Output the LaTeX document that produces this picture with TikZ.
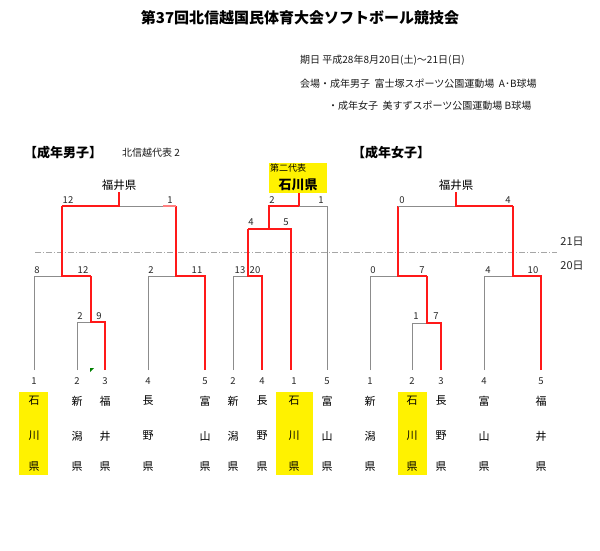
\documentclass[tikz,border=0pt]{standalone}
\usepackage{fontspec}
\newfontfamily\cjk{Noto Sans CJK JP}
\begin{document}
\begin{tikzpicture}[x=1pt,y=-1pt,
  g/.style={draw=gray!90,line width=0.8pt},
  r/.style={draw=red!90!white,line width=1.5pt},
  sc/.style={font=\cjk\fontsize{9.5}{9.5}\selectfont,text=gray!30!black,inner sep=0pt},
  nm/.style={font=\cjk\fontsize{11}{11}\selectfont,inner sep=0pt},
  hd/.style={font=\cjk\fontsize{10}{10}\selectfont,inner sep=0pt,anchor=west,text=gray!20!black}]
\useasboundingbox (0,0) rectangle (600,551);
\node[font=\cjk\bfseries\fontsize{15}{15}\selectfont] (title) at (300,18) {第37回北信越国民体育大会ソフトボール競技会};
\node[hd] (d1) at (300,60) {期日\ 平成28年8月20日(土)～21日(日)};
\node[hd] (d2) at (300,84) {会場・成年男子\ \ 富士塚スポーツ公園運動場\ \ A･B球場};
\node[hd] (d3) at (328,106) {・成年女子\ \ 美すずスポーツ公園運動場\ B球場};
\node[anchor=west,inner sep=0pt,font=\cjk\bfseries\fontsize{13}{13}\selectfont] (h1) at (24,153) {【成年男子】};
\node[hd] (h1b) at (122,153) {北信越代表\ 2};
\node[anchor=west,inner sep=0pt,font=\cjk\bfseries\fontsize{13}{13}\selectfont] (h2) at (352,153) {【成年女子】};
% yellow
\fill[yellow] (19,392) rectangle (48,475);
\fill[yellow] (276,392) rectangle (313,475);
\fill[yellow] (398,392) rectangle (427,475);
\fill[yellow] (269,163) rectangle (327,193);
\node[anchor=north west,inner sep=1pt,font=\cjk\fontsize{9}{9}\selectfont] (y1) at (269,163) {第二代表};
\node[font=\cjk\bfseries\fontsize{13}{13}\selectfont,inner sep=0pt] (y2) at (298,185) {石川県};
% dash-dot
\draw[gray!70,line width=0.8pt,dash pattern=on 6pt off 2pt on 1pt off 2pt] (35,252) -- (557,252);
\node[sc,font=\cjk\fontsize{11}{11}\selectfont] (d21) at (572,242) {21日};
\node[sc,font=\cjk\fontsize{11}{11}\selectfont] (d20) at (572,266) {20日};
% ===== left bracket
\draw[g] (77,370)--(77,322)--(91,322);
\draw[r] (105,370)--(105,322)--(91,322)--(91,276);
\draw[g] (34,370)--(34,276)--(62,276);
\draw[r] (91,276)--(62,276)--(62,206);
\draw[g] (148,370)--(148,276)--(176,276);
\draw[r] (205,370)--(205,276)--(176,276)--(176,206);
\draw[g] (119,206)--(163,206);
\draw[draw=red!50,line width=1.5pt] (163,206)--(176,206);
\draw[r] (62,206)--(119,206)--(119,192);
\node[nm,font=\cjk\fontsize{11.5}{11.5}\selectfont] (f1) at (119,185) {福井県};
\node[sc] at (68,200) {12}; \node[sc] at (170,200) {1};
\node[sc] at (37,270) {8}; \node[sc] at (83,270) {12};
\node[sc] at (80,316) {2}; \node[sc] at (99,316) {9};
\node[sc] at (151,270) {2}; \node[sc] at (197,270) {11};
% ===== middle bracket
\draw[g] (233,370)--(233,276)--(248,276);
\draw[r] (262,370)--(262,276)--(248,276)--(248,229);
\draw[r] (291,370)--(291,229)--(248,229);
\draw[r] (269,229)--(269,206)--(299,206)--(299,193);
\draw[g] (299,206)--(327,206)--(327,370);
\node[sc] at (240,270) {13}; \node[sc] at (255,270) {20};
\node[sc] at (251,222) {4}; \node[sc] at (286,222) {5};
\node[sc] at (272,200) {2}; \node[sc] at (321,200) {1};
% ===== right bracket
\draw[g] (412,370)--(412,323)--(427,323);
\draw[r] (441,370)--(441,323)--(427,323)--(427,276);
\draw[g] (370,370)--(370,276)--(398,276);
\draw[r] (427,276)--(398,276)--(398,206);
\draw[g] (484,370)--(484,276)--(513,276);
\draw[r] (541,370)--(541,276)--(513,276)--(513,206);
\draw[g] (398,206)--(456,206);
\draw[r] (513,206)--(456,206)--(456,192);
\node[nm,font=\cjk\fontsize{11.5}{11.5}\selectfont] (f2) at (456,185) {福井県};
\node[sc] at (402,200) {0}; \node[sc] at (508,200) {4};
\node[sc] at (373,270) {0}; \node[sc] at (422,270) {7};
\node[sc] at (416,316) {1}; \node[sc] at (436,316) {7};
\node[sc] at (488,270) {4}; \node[sc] at (533,270) {10};
% leaf labels
\foreach \x/\n/\a/\b in {34/1/石/川,77/2/新/潟,105/3/福/井,148/4/長/野,205/5/富/山,
  233/2/新/潟,262/4/長/野,294/1/石/川,327/5/富/山,
  370/1/新/潟,412/2/石/川,441/3/長/野,484/4/富/山,541/5/福/井}{
  \node[sc] at (\x,381) {\n};
  \node[nm] at (\x,401) {\a};
  \node[nm] at (\x,436) {\b};
  \node[nm] at (\x,467) {県};
}
\fill[green!50!black] (90,368) -- (94,368) -- (90,372) -- cycle;
\end{tikzpicture}
\end{document}
